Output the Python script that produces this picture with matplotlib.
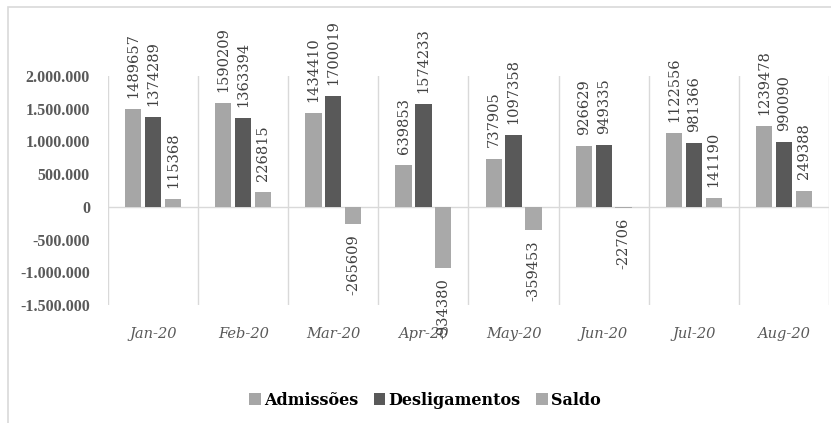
import matplotlib.pyplot as plt
import numpy as np
from matplotlib.patches import Rectangle
from matplotlib.ticker import FuncFormatter

months = ["Jan-20", "Feb-20", "Mar-20", "Apr-20", "May-20", "Jun-20", "Jul-20", "Aug-20"]
admissoes = [1489657, 1590209, 1434410, 639853, 737905, 926629, 1122556, 1239478]
desligamentos = [1374289, 1363394, 1700019, 1574233, 1097358, 949335, 981366, 990090]
saldo = [115368, 226815, -265609, -934380, -359453, -22706, 141190, 249388]

series = [("Admissões", admissoes, "#a6a6a6"),
          ("Desligamentos", desligamentos, "#595959"),
          ("Saldo", saldo, "#a9a9a9")]

plt.rcParams['font.family'] = ['DejaVu Serif']

fig = plt.figure(figsize=(8.31, 4.23), dpi=100)
ax = fig.add_axes([108 / 831, 1 - 305 / 423, (829 - 108) / 831, (305 - 76) / 423])

x = np.arange(len(months))
w = 0.18
step = 0.22
for i, (name, vals, col) in enumerate(series):
    pos = x + (i - 1) * step
    ax.bar(pos, vals, w, color=col, label=name, zorder=3)
    for p, v in zip(pos, vals):
        if v >= 0:
            ax.annotate(str(v), (p, v), xytext=(0, 8), textcoords="offset points",
                        rotation=90, ha="center", va="bottom", fontsize=10.5,
                        color="#404040", annotation_clip=False)
        else:
            ax.annotate(str(v), (p, v), xytext=(0, -7), textcoords="offset points",
                        rotation=90, ha="center", va="top", fontsize=10.5,
                        color="#404040", annotation_clip=False, zorder=5)

ax.set_xlim(-0.5, len(months) - 0.5)
ax.set_ylim(-1500000, 2000000)
ax.set_yticks(np.arange(-1500000, 2000001, 500000))
ax.yaxis.set_major_formatter(FuncFormatter(lambda v, _: f"{int(v):,}".replace(",", ".")))
ax.set_xticks(x)
ax.set_xticklabels(months, fontstyle="italic", fontsize=10.5, color="#595959")
for lab in ax.get_yticklabels():
    lab.set_fontfamily("Liberation Serif")
    lab.set_fontweight("bold")
    lab.set_fontsize(11.5)
    lab.set_color("#595959")
ax.tick_params(axis="y", length=0, pad=13)
ax.tick_params(axis="x", length=0, pad=16)

for s in ax.spines.values():
    s.set_visible(False)
for b in np.arange(-0.5, len(months), 1.0):
    ax.axvline(b, color="#d9d9d9", lw=1, zorder=1)
ax.axhline(0, color="#d9d9d9", lw=1, zorder=2)

fig.legend(loc="center", bbox_to_anchor=(425 / 831, 1 - 400 / 423), ncol=3,
           frameon=False, handlelength=0.7, handleheight=0.7, handletextpad=0.2,
           columnspacing=1.0, prop={"weight": "bold", "size": 11.5})

fig.patches.append(Rectangle((8 / 831, -0.05), 1.0, 1.05 - 7 / 423, transform=fig.transFigure,
                             fill=False, edgecolor="#d9d9d9", lw=1.2))

fig.savefig("out.png", dpi=100)
